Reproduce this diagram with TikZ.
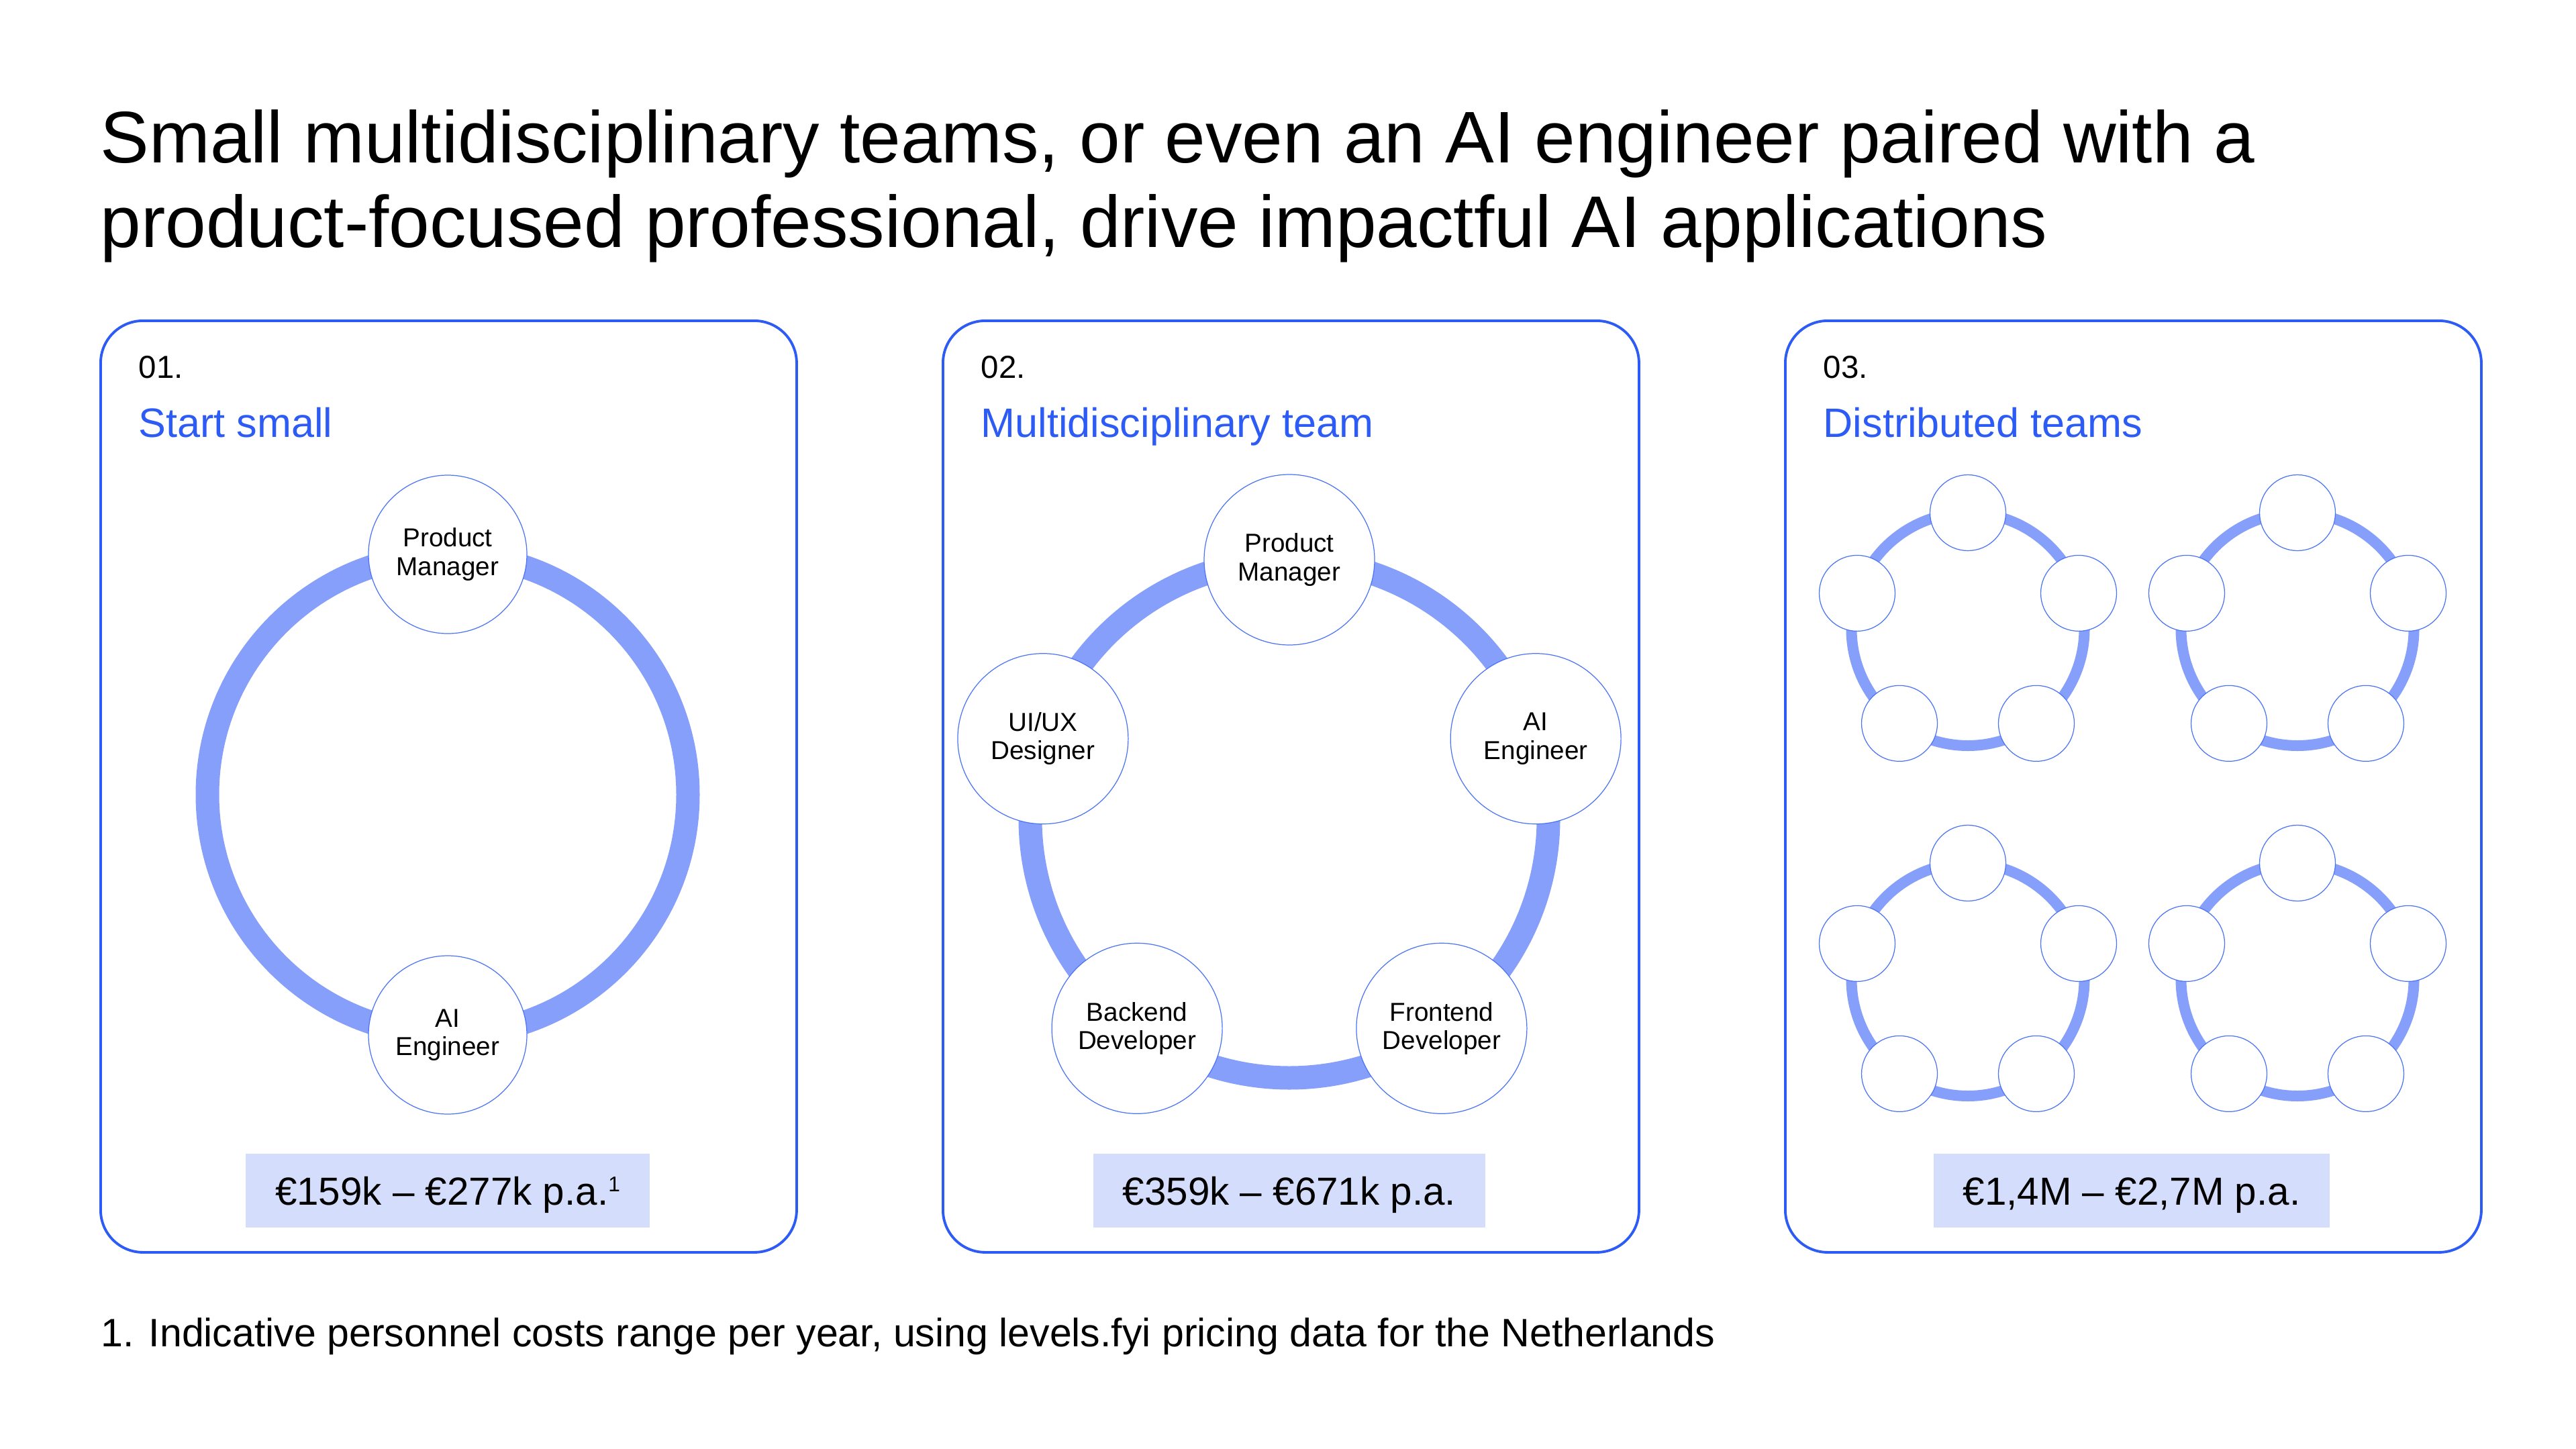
\documentclass[tikz,border=0pt]{standalone}
\usepackage{fontspec}
\setmainfont{Liberation Sans}
\usetikzlibrary{calc,backgrounds}
\definecolor{brandblue}{RGB}{45,91,245}
\definecolor{ringblue}{RGB}{134,159,250}
\definecolor{costfill}{RGB}{212,221,251}

\begin{document}
\begin{tikzpicture}
\tikzset{panel/.style = {draw=brandblue,line width=1.1pt,rounded corners=0.63cm,inner sep=0pt,minimum width=10.37cm,minimum height=13.88cm,anchor=north west}}
\tikzset{member/.style = {shape=circle,draw=brandblue!85,line width=0.35pt,fill=white,inner sep=0pt,minimum size=2.36cm,align=center,font=\fontsize{11}{12}\selectfont}}
\tikzset{small member/.style = {member,minimum size=1.13cm}}
\tikzset{ring/.style = {draw=ringblue,line width=0.35cm}}
\tikzset{thin ring/.style = {draw=ringblue,line width=0.16cm}}
\tikzset{cost/.style = {fill=costfill,inner xsep=0.44cm,inner ysep=0pt,minimum height=1.10cm,text height=0.42cm,text depth=0pt,font=\fontsize{16.6}{20}\selectfont}}
\tikzset{number/.style = {anchor=base west,inner sep=0pt,font=\fontsize{13.5}{16}\selectfont}}
\tikzset{heading/.style = {anchor=base west,inner sep=0pt,text=brandblue,font=\fontsize{17.4}{21}\selectfont}}

\useasboundingbox (0,0) rectangle (38.38,-21.59);

% title

\node[anchor=base west,inner sep=0pt,font=\fontsize{31}{36}\selectfont] (title) at (1.49,-2.42) {Small multidisciplinary teams, or even an AI engineer paired with a};
\node[anchor=base west,inner sep=0pt,font=\fontsize{31}{36}\selectfont] (title2) at (1.49,-3.68) {product-focused professional, drive impactful AI applications};

% panels

\node[panel] (panel1) at (1.48,-4.76) {};
\node[panel] (panel2) at (14.03,-4.76) {};
\node[panel] (panel3) at (26.58,-4.76) {};

\node[number] (num1) at (2.06,-5.63) {01.};
\node[heading] (head1) at (2.06,-6.51) {Start small};
\node[number] (num2) at (14.61,-5.63) {02.};
\node[heading] (head2) at (14.61,-6.51) {Multidisciplinary team};
\node[number] (num3) at (27.16,-5.63) {03.};
\node[heading] (head3) at (27.16,-6.51) {Distributed teams};

% vertices

\node[member] (pm1) at (6.67,-8.26) {Product\\Manager};
\node[member] (ai1) at (6.67,-15.42) {AI\\Engineer};

\coordinate (c2) at (19.21,-12.20);
\node[member,minimum size=2.54cm] (pm2) at ($(c2)+(90:3.86)$) {Product\\Manager};
\node[member,minimum size=2.54cm] (ux2) at ($(c2)+(162:3.86)$) {UI/UX\\Designer};
\node[member,minimum size=2.54cm] (be2) at ($(c2)+(234:3.86)$) {Backend\\Developer};
\node[member,minimum size=2.54cm] (fe2) at ($(c2)+(306:3.86)$) {Frontend\\Developer};
\node[member,minimum size=2.54cm] (ai2) at ($(c2)+(18:3.86)$) {AI\\Engineer};

\foreach \cx/\cy [count=\t] in {29.32/-9.375,34.23/-9.375,29.32/-14.595,34.23/-14.595}
  \foreach \k in {1,...,5}
    \node[small member] (t\t m\k) at ($(\cx,\cy)+(18+72*\k:1.735)$) {};

% edges

\begin{pgfonlayer}{background}
\draw[ring] (pm1.center) arc[start angle=90,delta angle=180,radius=3.58];
\draw[ring] (ai1.center) arc[start angle=270,delta angle=180,radius=3.58];

\draw[ring] (pm2.center) arc[start angle=90,delta angle=72,radius=3.86];
\draw[ring] (ux2.center) arc[start angle=162,delta angle=72,radius=3.86];
\draw[ring] (be2.center) arc[start angle=234,delta angle=72,radius=3.86];
\draw[ring] (fe2.center) arc[start angle=306,delta angle=72,radius=3.86];
\draw[ring] (ai2.center) arc[start angle=18,delta angle=72,radius=3.86];

\foreach \t in {1,...,4}
  \foreach \k in {1,...,5}
    \draw[thin ring] (t\t m\k.center) arc[start angle=18+72*\k,delta angle=72,radius=1.735];
\end{pgfonlayer}

% costs

\node[cost] (cost1) at (6.67,-17.74) {€159k – €277k p.a.\raisebox{0.62ex}{\fontsize{9}{9}\selectfont 1}};
\node[cost] (cost2) at (19.21,-17.74) {€359k – €671k p.a.};
\node[cost] (cost3) at (31.76,-17.74) {€1,4M – €2,7M p.a.};

% footnote

\node[anchor=base west,inner sep=0pt,font=\fontsize{16.8}{20}\selectfont] (note) at (1.50,-20.06) {1. Indicative personnel costs range per year, using levels.fyi pricing data for the Netherlands};
\end{tikzpicture}
\end{document}
